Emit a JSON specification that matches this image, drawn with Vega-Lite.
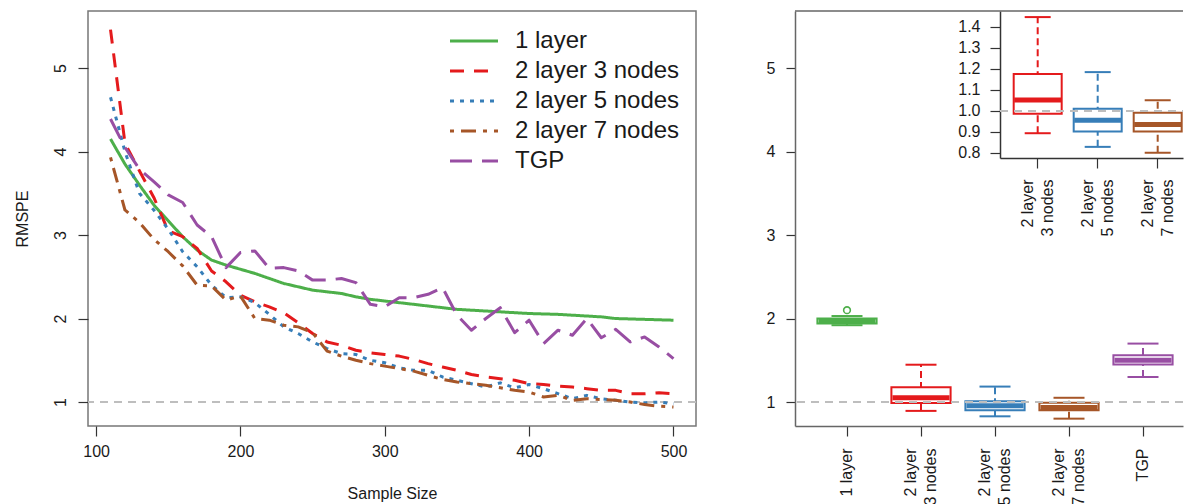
{
  "$schema": "https://vega.github.io/schema/vega-lite/v6.json",
  "padding": {"left": 13, "top": 10, "right": 0, "bottom": 0},
  "background": "white",
  "spacing": 68,
  "config": {
    "font": "Liberation Sans",
    "axis": {"labelFont": "Liberation Sans", "titleFont": "Liberation Sans", "labelColor": "#1a1a1a", "titleColor": "#1a1a1a", "tickColor": "#333", "domainColor": "#666", "labelFontSize": 16, "titleFontSize": 16, "titleFontWeight": "normal", "grid": false, "tickSize": 10, "tickWidth": 1.2, "domainWidth": 1.5},
    "view": {"stroke": "#777", "strokeWidth": 1.5}
  },
  "resolve": {"scale": {"color": "independent", "strokeDash": "independent", "stroke": "independent"}},
  "datasets": {
    "lines": [
      {"n":110,"model":"1 layer","rmspe":4.15},{"n":120,"model":"1 layer","rmspe":3.85},{"n":130,"model":"1 layer","rmspe":3.60},{"n":140,"model":"1 layer","rmspe":3.36},{"n":150,"model":"1 layer","rmspe":3.17},{"n":160,"model":"1 layer","rmspe":2.98},{"n":170,"model":"1 layer","rmspe":2.82},{"n":180,"model":"1 layer","rmspe":2.70},{"n":190,"model":"1 layer","rmspe":2.64},{"n":200,"model":"1 layer","rmspe":2.59},
      {"n":210,"model":"1 layer","rmspe":2.54},{"n":220,"model":"1 layer","rmspe":2.48},{"n":230,"model":"1 layer","rmspe":2.42},{"n":240,"model":"1 layer","rmspe":2.38},{"n":250,"model":"1 layer","rmspe":2.34},{"n":260,"model":"1 layer","rmspe":2.32},{"n":270,"model":"1 layer","rmspe":2.30},{"n":280,"model":"1 layer","rmspe":2.26},{"n":290,"model":"1 layer","rmspe":2.23},{"n":300,"model":"1 layer","rmspe":2.21},
      {"n":310,"model":"1 layer","rmspe":2.19},{"n":320,"model":"1 layer","rmspe":2.17},{"n":330,"model":"1 layer","rmspe":2.15},{"n":340,"model":"1 layer","rmspe":2.13},{"n":350,"model":"1 layer","rmspe":2.11},{"n":360,"model":"1 layer","rmspe":2.10},{"n":370,"model":"1 layer","rmspe":2.09},{"n":380,"model":"1 layer","rmspe":2.08},{"n":390,"model":"1 layer","rmspe":2.07},{"n":400,"model":"1 layer","rmspe":2.06},
      {"n":410,"model":"1 layer","rmspe":2.055},{"n":420,"model":"1 layer","rmspe":2.05},{"n":430,"model":"1 layer","rmspe":2.04},{"n":440,"model":"1 layer","rmspe":2.03},{"n":450,"model":"1 layer","rmspe":2.02},{"n":460,"model":"1 layer","rmspe":2.00},{"n":470,"model":"1 layer","rmspe":1.995},{"n":480,"model":"1 layer","rmspe":1.99},{"n":490,"model":"1 layer","rmspe":1.985},{"n":500,"model":"1 layer","rmspe":1.98},

      {"n":110,"model":"2 layer 3 nodes","rmspe":5.46},{"n":120,"model":"2 layer 3 nodes","rmspe":4.10},{"n":130,"model":"2 layer 3 nodes","rmspe":3.77},{"n":140,"model":"2 layer 3 nodes","rmspe":3.45},{"n":150,"model":"2 layer 3 nodes","rmspe":3.05},{"n":160,"model":"2 layer 3 nodes","rmspe":2.98},{"n":170,"model":"2 layer 3 nodes","rmspe":2.84},{"n":180,"model":"2 layer 3 nodes","rmspe":2.57},{"n":190,"model":"2 layer 3 nodes","rmspe":2.44},{"n":200,"model":"2 layer 3 nodes","rmspe":2.28},
      {"n":210,"model":"2 layer 3 nodes","rmspe":2.20},{"n":220,"model":"2 layer 3 nodes","rmspe":2.14},{"n":230,"model":"2 layer 3 nodes","rmspe":2.07},{"n":240,"model":"2 layer 3 nodes","rmspe":1.95},{"n":250,"model":"2 layer 3 nodes","rmspe":1.82},{"n":260,"model":"2 layer 3 nodes","rmspe":1.72},{"n":270,"model":"2 layer 3 nodes","rmspe":1.68},{"n":280,"model":"2 layer 3 nodes","rmspe":1.62},{"n":290,"model":"2 layer 3 nodes","rmspe":1.59},{"n":300,"model":"2 layer 3 nodes","rmspe":1.57},
      {"n":310,"model":"2 layer 3 nodes","rmspe":1.55},{"n":320,"model":"2 layer 3 nodes","rmspe":1.51},{"n":330,"model":"2 layer 3 nodes","rmspe":1.46},{"n":340,"model":"2 layer 3 nodes","rmspe":1.42},{"n":350,"model":"2 layer 3 nodes","rmspe":1.38},{"n":360,"model":"2 layer 3 nodes","rmspe":1.33},{"n":370,"model":"2 layer 3 nodes","rmspe":1.30},{"n":380,"model":"2 layer 3 nodes","rmspe":1.28},{"n":390,"model":"2 layer 3 nodes","rmspe":1.26},{"n":400,"model":"2 layer 3 nodes","rmspe":1.22},
      {"n":410,"model":"2 layer 3 nodes","rmspe":1.21},{"n":420,"model":"2 layer 3 nodes","rmspe":1.19},{"n":430,"model":"2 layer 3 nodes","rmspe":1.18},{"n":440,"model":"2 layer 3 nodes","rmspe":1.16},{"n":450,"model":"2 layer 3 nodes","rmspe":1.14},{"n":460,"model":"2 layer 3 nodes","rmspe":1.14},{"n":470,"model":"2 layer 3 nodes","rmspe":1.10},{"n":480,"model":"2 layer 3 nodes","rmspe":1.10},{"n":490,"model":"2 layer 3 nodes","rmspe":1.11},{"n":500,"model":"2 layer 3 nodes","rmspe":1.10},

      {"n":110,"model":"2 layer 5 nodes","rmspe":4.65},{"n":120,"model":"2 layer 5 nodes","rmspe":4.00},{"n":130,"model":"2 layer 5 nodes","rmspe":3.50},{"n":140,"model":"2 layer 5 nodes","rmspe":3.30},{"n":150,"model":"2 layer 5 nodes","rmspe":3.07},{"n":160,"model":"2 layer 5 nodes","rmspe":2.80},{"n":170,"model":"2 layer 5 nodes","rmspe":2.62},{"n":180,"model":"2 layer 5 nodes","rmspe":2.40},{"n":190,"model":"2 layer 5 nodes","rmspe":2.25},{"n":200,"model":"2 layer 5 nodes","rmspe":2.26},
      {"n":210,"model":"2 layer 5 nodes","rmspe":2.19},{"n":220,"model":"2 layer 5 nodes","rmspe":2.05},{"n":230,"model":"2 layer 5 nodes","rmspe":1.90},{"n":240,"model":"2 layer 5 nodes","rmspe":1.82},{"n":250,"model":"2 layer 5 nodes","rmspe":1.72},{"n":260,"model":"2 layer 5 nodes","rmspe":1.64},{"n":270,"model":"2 layer 5 nodes","rmspe":1.58},{"n":280,"model":"2 layer 5 nodes","rmspe":1.57},{"n":290,"model":"2 layer 5 nodes","rmspe":1.50},{"n":300,"model":"2 layer 5 nodes","rmspe":1.47},
      {"n":310,"model":"2 layer 5 nodes","rmspe":1.41},{"n":320,"model":"2 layer 5 nodes","rmspe":1.38},{"n":330,"model":"2 layer 5 nodes","rmspe":1.38},{"n":340,"model":"2 layer 5 nodes","rmspe":1.30},{"n":350,"model":"2 layer 5 nodes","rmspe":1.26},{"n":360,"model":"2 layer 5 nodes","rmspe":1.22},{"n":370,"model":"2 layer 5 nodes","rmspe":1.18},{"n":380,"model":"2 layer 5 nodes","rmspe":1.23},{"n":390,"model":"2 layer 5 nodes","rmspe":1.17},{"n":400,"model":"2 layer 5 nodes","rmspe":1.21},
      {"n":410,"model":"2 layer 5 nodes","rmspe":1.16},{"n":420,"model":"2 layer 5 nodes","rmspe":1.10},{"n":430,"model":"2 layer 5 nodes","rmspe":1.04},{"n":440,"model":"2 layer 5 nodes","rmspe":1.08},{"n":450,"model":"2 layer 5 nodes","rmspe":1.04},{"n":460,"model":"2 layer 5 nodes","rmspe":1.02},{"n":470,"model":"2 layer 5 nodes","rmspe":1.00},{"n":480,"model":"2 layer 5 nodes","rmspe":0.99},{"n":490,"model":"2 layer 5 nodes","rmspe":1.00},{"n":500,"model":"2 layer 5 nodes","rmspe":0.98},

      {"n":110,"model":"2 layer 7 nodes","rmspe":3.93},{"n":120,"model":"2 layer 7 nodes","rmspe":3.30},{"n":130,"model":"2 layer 7 nodes","rmspe":3.15},{"n":140,"model":"2 layer 7 nodes","rmspe":2.95},{"n":150,"model":"2 layer 7 nodes","rmspe":2.80},{"n":160,"model":"2 layer 7 nodes","rmspe":2.63},{"n":170,"model":"2 layer 7 nodes","rmspe":2.40},{"n":180,"model":"2 layer 7 nodes","rmspe":2.39},{"n":190,"model":"2 layer 7 nodes","rmspe":2.22},{"n":200,"model":"2 layer 7 nodes","rmspe":2.27},
      {"n":210,"model":"2 layer 7 nodes","rmspe":2.00},{"n":220,"model":"2 layer 7 nodes","rmspe":1.98},{"n":230,"model":"2 layer 7 nodes","rmspe":1.92},{"n":240,"model":"2 layer 7 nodes","rmspe":1.90},{"n":250,"model":"2 layer 7 nodes","rmspe":1.83},{"n":260,"model":"2 layer 7 nodes","rmspe":1.61},{"n":270,"model":"2 layer 7 nodes","rmspe":1.55},{"n":280,"model":"2 layer 7 nodes","rmspe":1.50},{"n":290,"model":"2 layer 7 nodes","rmspe":1.46},{"n":300,"model":"2 layer 7 nodes","rmspe":1.43},
      {"n":310,"model":"2 layer 7 nodes","rmspe":1.40},{"n":320,"model":"2 layer 7 nodes","rmspe":1.37},{"n":330,"model":"2 layer 7 nodes","rmspe":1.32},{"n":340,"model":"2 layer 7 nodes","rmspe":1.27},{"n":350,"model":"2 layer 7 nodes","rmspe":1.24},{"n":360,"model":"2 layer 7 nodes","rmspe":1.22},{"n":370,"model":"2 layer 7 nodes","rmspe":1.20},{"n":380,"model":"2 layer 7 nodes","rmspe":1.17},{"n":390,"model":"2 layer 7 nodes","rmspe":1.14},{"n":400,"model":"2 layer 7 nodes","rmspe":1.12},
      {"n":410,"model":"2 layer 7 nodes","rmspe":1.06},{"n":420,"model":"2 layer 7 nodes","rmspe":1.08},{"n":430,"model":"2 layer 7 nodes","rmspe":1.02},{"n":440,"model":"2 layer 7 nodes","rmspe":1.04},{"n":450,"model":"2 layer 7 nodes","rmspe":1.03},{"n":460,"model":"2 layer 7 nodes","rmspe":1.02},{"n":470,"model":"2 layer 7 nodes","rmspe":1.00},{"n":480,"model":"2 layer 7 nodes","rmspe":0.97},{"n":490,"model":"2 layer 7 nodes","rmspe":0.95},{"n":500,"model":"2 layer 7 nodes","rmspe":0.94},

      {"n":110,"model":"TGP","rmspe":4.39},{"n":120,"model":"TGP","rmspe":4.05},{"n":130,"model":"TGP","rmspe":3.79},{"n":140,"model":"TGP","rmspe":3.64},{"n":150,"model":"TGP","rmspe":3.48},{"n":160,"model":"TGP","rmspe":3.39},{"n":170,"model":"TGP","rmspe":3.12},{"n":180,"model":"TGP","rmspe":2.98},{"n":190,"model":"TGP","rmspe":2.61},{"n":200,"model":"TGP","rmspe":2.79},
      {"n":210,"model":"TGP","rmspe":2.81},{"n":220,"model":"TGP","rmspe":2.60},{"n":230,"model":"TGP","rmspe":2.61},{"n":240,"model":"TGP","rmspe":2.57},{"n":250,"model":"TGP","rmspe":2.46},{"n":260,"model":"TGP","rmspe":2.46},{"n":270,"model":"TGP","rmspe":2.48},{"n":280,"model":"TGP","rmspe":2.43},{"n":290,"model":"TGP","rmspe":2.17},{"n":300,"model":"TGP","rmspe":2.14},
      {"n":310,"model":"TGP","rmspe":2.25},{"n":320,"model":"TGP","rmspe":2.25},{"n":330,"model":"TGP","rmspe":2.29},{"n":340,"model":"TGP","rmspe":2.37},{"n":350,"model":"TGP","rmspe":2.04},{"n":360,"model":"TGP","rmspe":1.86},{"n":370,"model":"TGP","rmspe":2.00},{"n":380,"model":"TGP","rmspe":2.13},{"n":390,"model":"TGP","rmspe":1.83},{"n":400,"model":"TGP","rmspe":1.98},
      {"n":410,"model":"TGP","rmspe":1.70},{"n":420,"model":"TGP","rmspe":1.86},{"n":430,"model":"TGP","rmspe":1.80},{"n":440,"model":"TGP","rmspe":2.00},{"n":450,"model":"TGP","rmspe":1.77},{"n":460,"model":"TGP","rmspe":1.87},{"n":470,"model":"TGP","rmspe":1.72},{"n":480,"model":"TGP","rmspe":1.78},{"n":490,"model":"TGP","rmspe":1.66},{"n":500,"model":"TGP","rmspe":1.52}
    ],
    "boxes": [
      {"model":"1 layer","lo":1.92,"q1":1.94,"med":1.97,"q3":2.00,"hi":2.03},
      {"model":"2 layer 3 nodes","lo":0.894,"q1":0.987,"med":1.052,"q3":1.176,"hi":1.447},
      {"model":"2 layer 5 nodes","lo":0.829,"q1":0.902,"med":0.956,"q3":1.010,"hi":1.185},
      {"model":"2 layer 7 nodes","lo":0.801,"q1":0.902,"med":0.935,"q3":0.991,"hi":1.051},
      {"model":"TGP","lo":1.30,"q1":1.45,"med":1.50,"q3":1.56,"hi":1.70}
    ],
    "outliers": [
      {"model":"1 layer","value":2.10}
    ]
  },
  "hconcat": [
    {
      "width": 608,
      "height": 415,
      "layer": [
        {
          "data": {"values": [{}]},
          "mark": {"type": "rule", "color": "#BEBEBE", "strokeDash": [8, 6], "strokeWidth": 2},
          "encoding": {"y": {"datum": 1, "type": "quantitative", "scale": {"domain": [0.713, 5.683], "nice": false, "zero": false}}}
        },
        {
          "data": {"name": "lines"},
          "mark": {"type": "line", "strokeWidth": 3, "strokeCap": "butt", "strokeJoin": "round"},
          "encoding": {
            "x": {"field": "n", "type": "quantitative", "scale": {"domain": [94.4, 515.6], "nice": false, "zero": false},
                  "axis": {"values": [100, 200, 300, 400, 500], "format": "d", "title": "Sample Size", "labelPadding": 7, "titlePadding": 26, "domain": false}},
            "y": {"field": "rmspe", "type": "quantitative", "scale": {"domain": [0.713, 5.683], "nice": false, "zero": false},
                  "axis": {"values": [1, 2, 3, 4, 5], "format": "d", "title": "RMSPE", "labelAngle": -90, "labelPadding": 10, "titlePadding": 22, "domain": false}},
            "color": {"field": "model", "type": "nominal",
                      "scale": {"domain": ["1 layer", "2 layer 3 nodes", "2 layer 5 nodes", "2 layer 7 nodes", "TGP"], "range": ["#4DAF4A", "#E41A1C", "#377EB8", "#A65628", "#984EA3"]},
                      "legend": {"title": null, "orient": "none", "legendX": 374, "legendY": 18, "padding": 0,
                                 "symbolType": "M-4,0H4", "symbolSize": 144, "symbolStrokeWidth": 3,
                                 "labelFont": "Liberation Sans", "labelFontSize": 24, "labelColor": "#1a1a1a", "labelOffset": 29, "rowPadding": 6, "labelLimit": 400}},
            "strokeDash": {"field": "model", "type": "nominal",
                           "scale": {"domain": ["1 layer", "2 layer 3 nodes", "2 layer 5 nodes", "2 layer 7 nodes", "TGP"], "range": [[1, 0], [14, 10], [4, 6], [4, 7, 15, 7], [22, 10]]}}
          }
        }
      ]
    },
    {
      "width": 388,
      "height": 415,
      "view": {"stroke": null},
      "resolve": {"scale": {"x": "independent", "y": "independent"}, "axis": {"x": "independent", "y": "independent"}},
      "layer": [
        {
          "layer": [
            {
              "data": {"name": "boxes"},
              "encoding": {
                "x": {"field": "model", "type": "nominal", "sort": ["1 layer", "2 layer 3 nodes", "2 layer 5 nodes", "2 layer 7 nodes", "TGP"],
                      "scale": {"type": "band", "paddingInner": 0.2, "paddingOuter": 0.2216, "align": 0.683},
                      "axis": {"title": null, "labelAngle": -90, "labelPadding": 12, "tickSize": 10, "labelLineHeight": 20, "domainColor": "#666",
                               "labelOffset": {"condition": {"test": "indexof(datum.value, 'nodes') >= 0", "value": -10}, "value": 0},
                               "labelExpr": "datum.value == '1 layer' || datum.value == 'TGP' ? datum.value : [substring(datum.value, 0, 7), substring(datum.value, 8)]"}},
                "color": {"field": "model", "type": "nominal", "legend": null,
                          "scale": {"domain": ["1 layer", "2 layer 3 nodes", "2 layer 5 nodes", "2 layer 7 nodes", "TGP"], "range": ["#4DAF4A", "#E41A1C", "#377EB8", "#A65628", "#984EA3"]}}
              },
              "layer": [
                {"mark": {"type": "rule", "strokeWidth": 2, "strokeDash": [7, 4]},
                 "encoding": {"y": {"field": "lo", "type": "quantitative", "scale": {"domain": [0.713, 5.683], "nice": false, "zero": false},
                                    "axis": {"values": [1, 2, 3, 4, 5], "format": "d", "title": null, "labelAngle": 0, "tickSize": 9, "labelPadding": 11, "domainColor": "#666"}},
                              "y2": {"field": "hi"}}},
                {"mark": {"type": "bar", "fill": "white", "strokeWidth": 2},
                 "encoding": {"y": {"field": "q1", "type": "quantitative", "scale": {"domain": [0.713, 5.683], "nice": false, "zero": false}},
                              "y2": {"field": "q3"},
                              "color": {"value": null},
                              "stroke": {"field": "model", "type": "nominal", "legend": null,
                                         "scale": {"domain": ["1 layer", "2 layer 3 nodes", "2 layer 5 nodes", "2 layer 7 nodes", "TGP"], "range": ["#4DAF4A", "#E41A1C", "#377EB8", "#A65628", "#984EA3"]}}}},
                {"mark": {"type": "tick", "size": 31, "thickness": 2, "opacity": 1},
                 "encoding": {"y": {"field": "lo", "type": "quantitative", "scale": {"domain": [0.713, 5.683], "nice": false, "zero": false}}}},
                {"mark": {"type": "tick", "size": 31, "thickness": 2, "opacity": 1},
                 "encoding": {"y": {"field": "hi", "type": "quantitative", "scale": {"domain": [0.713, 5.683], "nice": false, "zero": false}}}},
                {"mark": {"type": "tick", "size": 57, "thickness": 5, "opacity": 1},
                 "encoding": {"y": {"field": "med", "type": "quantitative", "scale": {"domain": [0.713, 5.683], "nice": false, "zero": false}}}}
              ]
            },
            {
              "data": {"name": "outliers"},
              "mark": {"type": "point", "filled": false, "size": 45, "strokeWidth": 1.6, "opacity": 1},
              "encoding": {
                "x": {"field": "model", "type": "nominal"},
                "y": {"field": "value", "type": "quantitative", "scale": {"domain": [0.713, 5.683], "nice": false, "zero": false}},
                "color": {"field": "model", "type": "nominal", "legend": null}
              }
            },
            {
              "data": {"values": [{}]},
              "mark": {"type": "rule", "color": "#BEBEBE", "strokeDash": [8, 6], "strokeWidth": 2},
              "encoding": {"y": {"datum": 1, "type": "quantitative", "scale": {"domain": [0.713, 5.683], "nice": false, "zero": false}}}
            },
            {
              "data": {"values": [{}]},
              "mark": {"type": "rule", "color": "#666", "strokeWidth": 1.5},
              "encoding": {"y": {"datum": 5.683, "type": "quantitative", "scale": {"domain": [0.713, 5.683], "nice": false, "zero": false}}}
            }
          ]
        },
        {
          "resolve": {"scale": {"x": "independent"}, "axis": {"x": "independent"}},
          "layer": [
            {
              "data": {"name": "boxes"},
              "transform": [{"filter": {"field": "model", "oneOf": ["2 layer 3 nodes", "2 layer 5 nodes", "2 layer 7 nodes"]}}],
              "encoding": {
                "x": {"field": "model", "type": "nominal", "sort": ["2 layer 3 nodes", "2 layer 5 nodes", "2 layer 7 nodes"],
                      "scale": {"type": "band", "range": [205, 388], "paddingInner": 0.2, "paddingOuter": 0.125, "align": 0.913},
                      "axis": {"title": null, "orient": "bottom", "offset": -268, "labelAngle": -90, "labelPadding": 11, "tickSize": 10, "labelLineHeight": 20, "domainColor": "#333", "labelOffset": -10,
                               "labelExpr": "[substring(datum.value, 0, 7), substring(datum.value, 8)]"}},
                "color": {"field": "model", "type": "nominal", "legend": null}
              },
              "layer": [
                {"mark": {"type": "rule", "strokeWidth": 2, "strokeDash": [7, 4]},
                 "encoding": {"y": {"field": "lo", "type": "quantitative", "scale": {"domain": [0.776, 1.476], "range": [147, 0], "nice": false, "zero": false},
                                    "axis": {"values": [0.8, 0.9, 1.0, 1.1, 1.2, 1.3, 1.4], "format": ".1f", "orient": "left", "offset": -205, "title": null, "labelAngle": 0, "tickSize": 10, "labelPadding": 10, "domainColor": "#333"}},
                              "y2": {"field": "hi"}}},
                {"mark": {"type": "bar", "fill": "white", "strokeWidth": 2},
                 "encoding": {"y": {"field": "q1", "type": "quantitative", "scale": {"domain": [0.776, 1.476], "range": [147, 0], "nice": false, "zero": false}},
                              "y2": {"field": "q3"},
                              "color": {"value": null},
                              "stroke": {"field": "model", "type": "nominal", "legend": null}}},
                {"mark": {"type": "tick", "size": 26, "thickness": 2, "opacity": 1},
                 "encoding": {"y": {"field": "lo", "type": "quantitative", "scale": {"domain": [0.776, 1.476], "range": [147, 0], "nice": false, "zero": false}}}},
                {"mark": {"type": "tick", "size": 26, "thickness": 2, "opacity": 1},
                 "encoding": {"y": {"field": "hi", "type": "quantitative", "scale": {"domain": [0.776, 1.476], "range": [147, 0], "nice": false, "zero": false}}}},
                {"mark": {"type": "tick", "size": 47, "thickness": 5, "opacity": 1},
                 "encoding": {"y": {"field": "med", "type": "quantitative", "scale": {"domain": [0.776, 1.476], "range": [147, 0], "nice": false, "zero": false}}}}
              ]
            },
            {
              "data": {"values": [{}]},
              "mark": {"type": "rule", "color": "#BEBEBE", "strokeDash": [8, 6], "strokeWidth": 2},
              "encoding": {
                "x": {"datum": 0, "type": "quantitative", "scale": {"domain": [0, 1], "range": [205, 388], "nice": false, "zero": false}, "axis": null},
                "x2": {"datum": 1},
                "y": {"datum": 1, "type": "quantitative", "scale": {"domain": [0.776, 1.476], "range": [147, 0], "nice": false, "zero": false}}
              }
            }
          ]
        }
      ]
    }
  ]
}
